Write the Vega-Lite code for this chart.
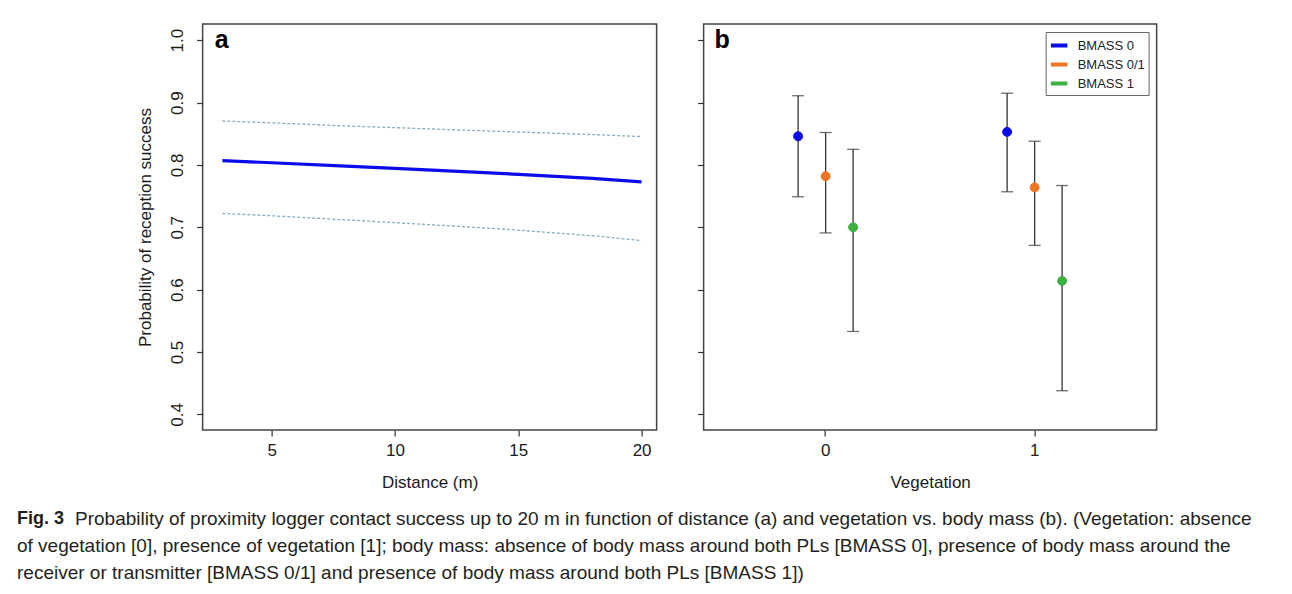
{
  "$schema": "https://vega.github.io/schema/vega-lite/v6.json",
  "background": "white",
  "padding": {"left": 17, "top": 23, "right": 5, "bottom": 5},
  "config": {
    "font": "Liberation Sans",
    "view": {"stroke": "#444444", "strokeWidth": 1.5},
    "axis": {"grid": false, "domain": false, "tickColor": "#333333", "tickSize": 6, "tickWidth": 1.2, "labelFontSize": 17, "labelColor": "#1a1a1a", "titleFontSize": 17, "titleFontWeight": "normal", "titleColor": "#1a1a1a"},
    "legend": {"orient": "top-right", "offset": 8, "strokeColor": "#666666", "padding": 3, "labelFontSize": 13, "labelColor": "#222222", "symbolType": "stroke", "symbolSize": 272, "symbolStrokeWidth": 4, "rowPadding": 0, "labelOffset": 8, "title": null}
  },
  "center": true,
  "spacing": 14,
  "resolve": {"legend": {"stroke": "independent"}},
  "vconcat": [
    {
      "spacing": 38,
      "resolve": {"legend": {"stroke": "independent"}},
      "hconcat": [
        {
          "width": 454, "height": 406,
          "data": {"values": [
            {"distance": 3, "fit": 0.807, "upper": 0.8705, "lower": 0.7223},
            {"distance": 5, "fit": 0.8035, "upper": 0.8675, "lower": 0.7185},
            {"distance": 8, "fit": 0.798, "upper": 0.8625, "lower": 0.712},
            {"distance": 10, "fit": 0.7945, "upper": 0.8598, "lower": 0.7075},
            {"distance": 13, "fit": 0.789, "upper": 0.8555, "lower": 0.7005},
            {"distance": 15, "fit": 0.785, "upper": 0.8528, "lower": 0.6955},
            {"distance": 18, "fit": 0.7785, "upper": 0.8487, "lower": 0.6865},
            {"distance": 20, "fit": 0.773, "upper": 0.8455, "lower": 0.6787}
          ]},
          "layer": [
            {"mark": {"type": "line", "color": "#86adc2", "strokeWidth": 1.3, "strokeDash": [3, 2]},
             "encoding": {
               "x": {"field": "distance", "type": "quantitative", "scale": {"domain": [2.2, 20.61], "nice": false, "zero": false}, "axis": {"values": [5, 10, 15, 20], "title": "Distance (m)", "labelPadding": 6, "titlePadding": 16}},
               "y": {"field": "upper", "type": "quantitative", "scale": {"domain": [0.375, 1.026], "nice": false, "zero": false}, "axis": {"values": [0.4, 0.5, 0.6, 0.7, 0.8, 0.9, 1.0], "format": ".1f", "labelAngle": -90, "labelPadding": 10, "titlePadding": 14, "title": "Probability of reception success"}}}},
            {"mark": {"type": "line", "color": "#86adc2", "strokeWidth": 1.3, "strokeDash": [3, 2]},
             "encoding": {
               "x": {"field": "distance", "type": "quantitative", "scale": {"domain": [2.2, 20.61], "nice": false, "zero": false}, "axis": {"values": [5, 10, 15, 20], "title": "Distance (m)", "labelPadding": 6, "titlePadding": 16}},
               "y": {"field": "lower", "type": "quantitative", "scale": {"domain": [0.375, 1.026], "nice": false, "zero": false}, "axis": {"values": [0.4, 0.5, 0.6, 0.7, 0.8, 0.9, 1.0], "format": ".1f", "labelAngle": -90, "labelPadding": 10, "titlePadding": 14, "title": "Probability of reception success"}}}},
            {"mark": {"type": "line", "color": "#0b0bea", "strokeWidth": 3.2},
             "encoding": {
               "x": {"field": "distance", "type": "quantitative", "scale": {"domain": [2.2, 20.61], "nice": false, "zero": false}, "axis": {"values": [5, 10, 15, 20], "title": "Distance (m)", "labelPadding": 6, "titlePadding": 16}},
               "y": {"field": "fit", "type": "quantitative", "scale": {"domain": [0.375, 1.026], "nice": false, "zero": false}, "axis": {"values": [0.4, 0.5, 0.6, 0.7, 0.8, 0.9, 1.0], "format": ".1f", "labelAngle": -90, "labelPadding": 10, "titlePadding": 14, "title": "Probability of reception success"}}}},
            {"data": {"values": [{"panel": "a"}]},
             "mark": {"type": "text", "align": "left", "baseline": "middle", "fontSize": 25, "fontWeight": "bold", "color": "#000000"},
             "encoding": {
               "x": {"datum": 2.69, "type": "quantitative"},
               "y": {"datum": 1.0, "type": "quantitative"},
               "text": {"field": "panel"}}}
          ]
        },
        {
          "width": 453, "height": 406,
          "data": {"values": [
            {"vegetation": 0, "bmass": "BMASS 0", "estimate": 0.846, "lower": 0.749, "upper": 0.911},
            {"vegetation": 0, "bmass": "BMASS 0/1", "estimate": 0.782, "lower": 0.691, "upper": 0.852},
            {"vegetation": 0, "bmass": "BMASS 1", "estimate": 0.700, "lower": 0.533, "upper": 0.825},
            {"vegetation": 1, "bmass": "BMASS 0", "estimate": 0.853, "lower": 0.757, "upper": 0.915},
            {"vegetation": 1, "bmass": "BMASS 0/1", "estimate": 0.764, "lower": 0.671, "upper": 0.838},
            {"vegetation": 1, "bmass": "BMASS 1", "estimate": 0.614, "lower": 0.438, "upper": 0.767}
          ]},
          "layer": [
            {"mark": {"type": "rule", "color": "#333333", "strokeWidth": 1.3},
             "encoding": {
               "x": {"field": "vegetation", "type": "ordinal", "scale": {"paddingInner": 0, "paddingOuter": 0.0837}, "axis": {"labelAngle": 0, "title": "Vegetation", "labelPadding": 6, "titlePadding": 16}},
               "xOffset": {"field": "bmass", "type": "nominal", "sort": ["BMASS 0", "BMASS 0/1", "BMASS 1"], "scale": {"range": [63.25, 145.75], "paddingInner": 0, "paddingOuter": 0}},
               "y": {"field": "lower", "type": "quantitative", "scale": {"domain": [0.375, 1.026], "nice": false, "zero": false}, "axis": {"values": [0.4, 0.5, 0.6, 0.7, 0.8, 0.9, 1.0], "labels": false, "title": null}},
               "y2": {"field": "upper"}}},
            {"mark": {"type": "tick", "color": "#333333", "size": 12, "thickness": 1.3, "orient": "horizontal"},
             "encoding": {
               "x": {"field": "vegetation", "type": "ordinal", "axis": {"labelAngle": 0, "title": "Vegetation", "labelPadding": 6, "titlePadding": 16}},
               "xOffset": {"field": "bmass", "type": "nominal", "sort": ["BMASS 0", "BMASS 0/1", "BMASS 1"]},
               "y": {"field": "upper", "type": "quantitative", "axis": {"values": [0.4, 0.5, 0.6, 0.7, 0.8, 0.9, 1.0], "labels": false, "title": null}}}},
            {"mark": {"type": "tick", "color": "#333333", "size": 12, "thickness": 1.3, "orient": "horizontal"},
             "encoding": {
               "x": {"field": "vegetation", "type": "ordinal", "axis": {"labelAngle": 0, "title": "Vegetation", "labelPadding": 6, "titlePadding": 16}},
               "xOffset": {"field": "bmass", "type": "nominal", "sort": ["BMASS 0", "BMASS 0/1", "BMASS 1"]},
               "y": {"field": "lower", "type": "quantitative", "axis": {"values": [0.4, 0.5, 0.6, 0.7, 0.8, 0.9, 1.0], "labels": false, "title": null}}}},
            {"mark": {"type": "circle", "size": 80, "opacity": 1, "strokeWidth": 1},
             "encoding": {
               "x": {"field": "vegetation", "type": "ordinal", "axis": {"labelAngle": 0, "title": "Vegetation", "labelPadding": 6, "titlePadding": 16}},
               "xOffset": {"field": "bmass", "type": "nominal", "sort": ["BMASS 0", "BMASS 0/1", "BMASS 1"]},
               "y": {"field": "estimate", "type": "quantitative", "axis": {"values": [0.4, 0.5, 0.6, 0.7, 0.8, 0.9, 1.0], "labels": false, "title": null}},
               "fill": {"field": "bmass", "type": "nominal", "scale": {"domain": ["BMASS 0", "BMASS 0/1", "BMASS 1"], "range": ["#0b0bea", "#ee7421", "#3db044"]}, "legend": null},
               "stroke": {"field": "bmass", "type": "nominal", "scale": {"domain": ["BMASS 0", "BMASS 0/1", "BMASS 1"], "range": ["#0b0bea", "#ee7421", "#3db044"]}, "legend": {"orient": "top-right"}}}},
            {"data": {"values": [{"panel": "b"}]},
             "mark": {"type": "text", "align": "left", "baseline": "middle", "fontSize": 25, "fontWeight": "bold", "color": "#000000", "dx": -6.5},
             "encoding": {
               "x": {"datum": 0, "type": "ordinal", "bandPosition": 0},
               "y": {"datum": 1.0, "type": "quantitative"},
               "text": {"field": "panel"}}}
          ]
        }
      ]
    },
    {
      "width": 1326, "height": 82,
      "view": {"stroke": null, "fill": "white"},
      "data": {"values": [
        {"line": 1, "kind": "label", "text": "Fig. 3"},
        {"line": 1, "kind": "first", "text": "Probability of proximity logger contact success up to 20 m in function of distance (a) and vegetation vs. body mass (b). (Vegetation: absence"},
        {"line": 2, "kind": "body", "text": "of vegetation [0], presence of vegetation [1]; body mass: absence of body mass around both PLs [BMASS 0], presence of body mass around the"},
        {"line": 3, "kind": "body", "text": "receiver or transmitter [BMASS 0/1] and presence of body mass around both PLs [BMASS 1])"}
      ]},
      "encoding": {
        "y": {"field": "line", "type": "ordinal", "axis": null, "scale": {"paddingInner": 0, "paddingOuter": 0}},
        "x": {"datum": 0, "type": "quantitative", "scale": {"domain": [0, 1]}, "axis": null},
        "text": {"field": "text"}
      },
      "layer": [
        {"transform": [{"filter": "datum.kind == 'label'"}],
         "mark": {"type": "text", "align": "left", "baseline": "middle", "fontSize": 18, "fontWeight": "bold", "color": "#231f20"}},
        {"transform": [{"filter": "datum.kind == 'first'"}],
         "mark": {"type": "text", "align": "left", "baseline": "middle", "fontSize": 19, "color": "#231f20", "dx": 58}},
        {"transform": [{"filter": "datum.kind == 'body'"}],
         "mark": {"type": "text", "align": "left", "baseline": "middle", "fontSize": 19, "color": "#231f20"}}
      ]
    }
  ]
}
